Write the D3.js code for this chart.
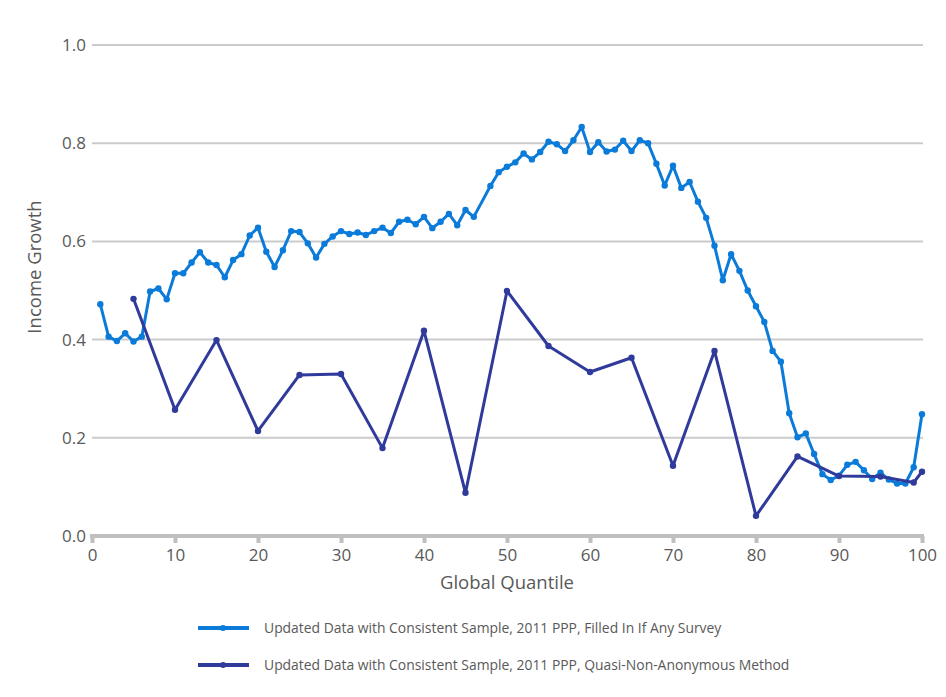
<!DOCTYPE html>
<html>
<head>
<meta charset="utf-8">
<script src="https://cdnjs.cloudflare.com/ajax/libs/d3/7.8.5/d3.min.js"></script>
<style>
    body { margin: 0; background: #fff; }
    text { font-family: "Open Sans", "Noto Sans", sans-serif; fill: #595959; }
</style>
</head>
<body>
<div id="chart"></div>
<script>
// light blue series: quantiles 1..100 (47 not shown in the picture)
var filledQuantiles = [1, 2, 3, 4, 5, 6, 7, 8, 9, 10, 11, 12, 13, 14, 15, 16, 17, 18, 19, 20,
    21, 22, 23, 24, 25, 26, 27, 28, 29, 30, 31, 32, 33, 34, 35, 36, 37, 38, 39, 40,
    41, 42, 43, 44, 45, 46, 48, 49, 50, 51, 52, 53, 54, 55, 56, 57, 58, 59, 60,
    61, 62, 63, 64, 65, 66, 67, 68, 69, 70, 71, 72, 73, 74, 75, 76, 77, 78, 79, 80,
    81, 82, 83, 84, 85, 86, 87, 88, 89, 90, 91, 92, 93, 94, 95, 96, 97, 98, 99, 100];
var filledValues = [0.472, 0.406, 0.397, 0.413, 0.396, 0.406, 0.498, 0.504, 0.482, 0.535,
    0.535, 0.557, 0.578, 0.557, 0.552, 0.527, 0.562, 0.574, 0.612, 0.628,
    0.579, 0.548, 0.582, 0.621, 0.619, 0.596, 0.567, 0.595, 0.610, 0.621,
    0.615, 0.618, 0.613, 0.621, 0.628, 0.617, 0.640, 0.644, 0.635, 0.650,
    0.627, 0.640, 0.656, 0.633, 0.664, 0.650, 0.713, 0.741, 0.752, 0.761,
    0.779, 0.767, 0.782, 0.803, 0.798, 0.784, 0.806, 0.833, 0.782, 0.802,
    0.783, 0.787, 0.805, 0.784, 0.806, 0.800, 0.758, 0.714, 0.754, 0.709,
    0.721, 0.681, 0.648, 0.591, 0.521, 0.574, 0.540, 0.500, 0.468, 0.436,
    0.377, 0.355, 0.250, 0.201, 0.209, 0.167, 0.126, 0.114, 0.123, 0.145,
    0.151, 0.134, 0.116, 0.129, 0.115, 0.107, 0.107, 0.140, 0.248];

// dark blue series
var quasiQuantiles = [5, 10, 15, 20, 25, 30, 35, 40, 45, 50, 55, 60, 65, 70, 75, 80, 85, 90, 95, 99, 100];
var quasiValues = [0.483, 0.257, 0.399, 0.214, 0.328, 0.330, 0.179, 0.418, 0.088, 0.499,
    0.387, 0.334, 0.363, 0.143, 0.377, 0.041, 0.162, 0.122, 0.121, 0.109, 0.131];

var xTicks = [0, 10, 20, 30, 40, 50, 60, 70, 80, 90, 100];
var yTicks = [0, 0.2, 0.4, 0.6, 0.8, 1.0];

var seriesNames = ['Updated Data with Consistent Sample, 2011 PPP, Filled In If Any Survey',
    'Updated Data with Consistent Sample, 2011 PPP, Quasi-Non-Anonymous Method'];
var seriesColors = ['#0a7bd9', '#2f3a9b'];

var width = 946, height = 697;
var margin = { left: 92, right: 24, top: 45, bottom: 161 };

var svg = d3.select('#chart').append('svg')
    .attr('width', width)
    .attr('height', height);

var x = d3.scaleLinear().domain([0, 100]).range([margin.left, width - margin.right]);
var y = d3.scaleLinear().domain([0, 1]).range([height - margin.bottom, margin.top]);

// gridlines and y labels
svg.append('g').selectAll('line')
    .data(yTicks.filter(function(d) { return d > 0; }))
    .enter().append('line')
    .attr('x1', x(0))
    .attr('x2', x(100) + 1)
    .attr('y1', function(d) { return y(d); })
    .attr('y2', function(d) { return y(d); })
    .attr('stroke', '#cbcbcb')
    .attr('stroke-width', 2);

svg.append('g').selectAll('text')
    .data(yTicks)
    .enter().append('text')
    .attr('x', x(0) - 6)
    .attr('y', function(d) { return y(d); })
    .attr('dy', '0.35em')
    .attr('text-anchor', 'end')
    .style('font-size', '17px')
    .text(function(d) { return d3.format('.1f')(d); });

// x axis: thick gray line with short ticks
var xAxis = d3.axisBottom(x).tickValues(xTicks).tickSize(7).tickPadding(6);
var gx = svg.append('g')
    .attr('transform', 'translate(0,' + y(0) + ')')
    .call(xAxis);
gx.select('.domain').remove();
gx.selectAll('.tick line').attr('stroke', '#bfbfbf').attr('stroke-width', 4);
gx.selectAll('.tick text').attr('fill', '#595959').style('font-size', '17px')
    .style('font-family', '"Open Sans", sans-serif');
gx.append('line')
    .attr('x1', x(0) - 2)
    .attr('x2', x(100) + 2)
    .attr('stroke', '#bfbfbf')
    .attr('stroke-width', 4);

// axis titles
svg.append('text')
    .attr('x', (x(0) + x(100)) / 2)
    .attr('y', 589)
    .attr('text-anchor', 'middle')
    .style('font-size', '18.5px')
    .text('Global Quantile');

svg.append('text')
    .attr('transform', 'translate(41,' + 267 + ') rotate(-90)')
    .attr('text-anchor', 'middle')
    .style('font-size', '18.5px')
    .text('Income Growth');

function drawSeries(qs, vs, color) {
    /*
    Draws one series as a line with dots.

    qs: quantiles
    vs: income growth values
    color: stroke and fill colour
    */
    var pts = qs.map(function(q, i) { return { q: q, v: vs[i] }; });
    var line = d3.line()
        .x(function(d) { return x(d.q); })
        .y(function(d) { return y(d.v); });

    svg.append('path')
        .datum(pts)
        .attr('d', line)
        .attr('fill', 'none')
        .attr('stroke', color)
        .attr('stroke-width', 3)
        .attr('stroke-linejoin', 'round');

    svg.append('g').selectAll('circle')
        .data(pts)
        .enter().append('circle')
        .attr('cx', function(d) { return x(d.q); })
        .attr('cy', function(d) { return y(d.v); })
        .attr('r', 3.2)
        .attr('fill', color);
}

drawSeries(filledQuantiles, filledValues, seriesColors[0]);
drawSeries(quasiQuantiles, quasiValues, seriesColors[1]);

// legend
var legendY = [628, 665];
var legend = svg.append('g').selectAll('g')
    .data(seriesNames)
    .enter().append('g')
    .attr('transform', function(d, i) { return 'translate(0,' + legendY[i] + ')'; });

legend.append('line')
    .attr('x1', 198)
    .attr('x2', 249)
    .attr('stroke', function(d, i) { return seriesColors[i]; })
    .attr('stroke-width', 4);

legend.append('circle')
    .attr('cx', 223)
    .attr('r', 3)
    .attr('fill', function(d, i) { return seriesColors[i]; });

legend.append('text')
    .attr('x', 264)
    .attr('dy', '0.35em')
    .style('font-size', '13.9px')
    .text(function(d) { return d; });
</script>
</body>
</html>
